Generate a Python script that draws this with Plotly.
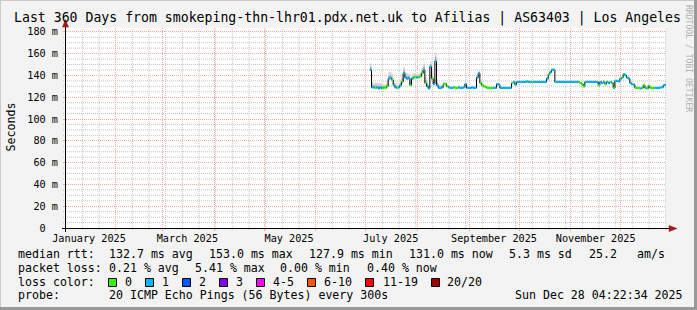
import plotly.graph_objects as go
import pandas as pd

# ---------------- data ----------------
start_date = "2025-07-03 12:00"   # first daily sample

median_ms = [
    145, 129, 129, 128.5, 129, 128, 129, 128, 129, 128.5,
    130, 137, 137.5, 136, 131, 129, 128.5, 129, 131, 134,
    142, 138, 137, 137.5, 131, 137, 138, 138.5, 138, 138.5,
    139, 142, 145, 133, 130, 128, 148, 137, 132, 153,
    131, 128.5, 128.5, 129, 132, 132, 130, 129, 128.5, 128.5,
    129, 128.5, 128.5, 129, 128.5, 128.5, 129, 132, 128.5, 128.5,
    128.5, 129, 128.5, 128.5, 138, 142, 133, 131, 130, 129.5,
    128.5, 128.5, 128.5, 128.5, 128.5, 128.5, 132, 131.5, 128.5, 128.5,
    128.5, 128.5, 128.5, 128.5, 128.5, 133, 134, 131.5, 134, 134,
    134, 134, 134, 134, 134.5, 134, 134, 134, 134, 134,
    134, 134, 134, 134, 134, 134, 137, 141, 143, 145,
    145, 134, 134, 134, 134, 134, 134, 134, 134, 134,
    134, 134, 134, 134, 134, 134, 133, 132, 130, 134,
    134, 134, 134, 134, 134, 134, 134, 131, 134, 133,
    134, 132, 134, 133, 134, 133, 128.5, 135, 135, 134.5,
    137, 138, 141, 140, 138, 137, 133, 132, 131.5, 128.5,
    128.5, 128.5, 128, 128.5, 131, 128.5, 128, 130.5, 128.5, 128.5,
    128.5, 128.5, 128.5, 128.5, 129, 129, 131, 131,
]

loss_pings = [
    1, 1, 1, 0, 1, 1, 1, 0, 0, 0,
    0, 1, 1, 0, 1, 1, 0, 1, 1, 0,
    1, 1, 1, 1, 0, 1, 0, 0, 1, 0,
    0, 0, 1, 0, 1, 1, 1, 0, 1, 1,
    1, 1, 1, 1, 0, 0, 0, 1, 1, 1,
    0, 0, 0, 1, 1, 1, 1, 1, 1, 1,
    1, 1, 1, 1, 1, 1, 0, 0, 0, 0,
    0, 0, 0, 0, 1, 1, 1, 1, 1, 1,
    1, 1, 1, 1, 1, 0, 1, 1, 1, 1,
    1, 1, 1, 1, 1, 1, 1, 0, 1, 1,
    1, 1, 1, 1, 1, 1, 1, 0, 1, 1,
    1, 1, 1, 1, 1, 1, 1, 1, 1, 1,
    1, 1, 1, 1, 1, 0, 0, 0, 0, 1,
    1, 1, 1, 1, 1, 1, 1, 0, 1, 1,
    1, 0, 1, 1, 0, 1, 0, 1, 1, 1,
    1, 0, 1, 1, 1, 1, 1, 1, 1, 0,
    0, 0, 1, 0, 0, 1, 0, 0, 0, 0,
    0, 1, 1, 1, 1, 1, 1, 1,
]

smoke_spread = [
    6, 5, 4, 5, 4, 5, 4, 4, 3, 3,
    5, 6, 6, 5, 4, 4, 3, 3, 5, 7,
    6, 5, 5, 4, 6, 4, 4, 3, 3, 3,
    4, 5, 6, 6, 5, 4, 5, 6, 5, 8,
    5, 3, 3, 2, 2, 2, 1.5, 1.5, 1.5, 1.5,
    1.5, 1.5, 1.5, 1.5, 1.5, 1.5, 1.5, 1.5, 1.5, 1.5,
    1.5, 1.5, 1.5, 1.5, 2, 2, 1.5, 1.2, 1.2, 1.2,
    1, 1, 1, 1, 1, 1, 1.2, 1, 1, 1,
    1, 1, 1, 1, 1, 1.2, 1, 1, 1, 1,
    1, 1, 1, 1, 1, 1, 1, 1, 1, 1,
    1, 1, 1, 1, 1, 1, 1.5, 1.5, 1.5, 1.5,
    1.5, 1, 1, 1, 1, 1, 1, 1, 1, 1,
    1, 1, 1, 1, 1, 1, 1, 1, 1, 1,
    1, 1, 1, 1, 1, 1, 1, 1, 1, 1,
    1, 1, 1, 1, 1, 1, 1, 1, 1, 1,
    1.2, 1.2, 1.2, 1.2, 1.2, 1, 1, 1, 1, 1,
    1, 1, 1, 1, 1, 1, 1, 1, 1, 1,
    1, 1, 1, 1, 1, 1, 1, 1,
]

loss_colors = ["#26ff00", "#00b8ff", "#0059ff", "#7e00ff",
               "#ff00ff", "#ff5500", "#ff0000", "#a10000"]
loss_labels = ["0", "1", "2", "3", "4-5", "6-10", "11-19", "20/20"]

month_starts = ["2025-02-01", "2025-03-01", "2025-04-01", "2025-05-01",
                "2025-06-01", "2025-07-01", "2025-08-01", "2025-09-01",
                "2025-10-01", "2025-11-01", "2025-12-01"]
label_dates = ["2025-01-16", "2025-03-16", "2025-05-16",
               "2025-07-16", "2025-09-16", "2025-11-16"]
label_texts = ["January 2025", "March 2025", "May 2025",
               "July 2025", "September 2025", "November 2025"]
y_ticks = [0, 20, 40, 60, 80, 100, 120, 140, 160, 180]
y_tick_texts = ["0\u00a0\u00a0", "20 m", "40 m", "60 m", "80 m",
                "100 m", "120 m", "140 m", "160 m", "180 m"]

x_range = ["2025-01-02 04:22:34", "2025-12-28 04:22:34"]
y_range = [0, 183.5]

# minor grid positions (every 10 days, every 5 ms)
x_minor = [d.strftime("%Y-%m-%d") for d in pd.date_range("2025-01-12", "2025-12-28", freq="10D")]
y_minor = [v for v in range(5, 185, 5) if v % 20]

# ---------------- layout geometry (pixels) ----------------
W, H = 697, 310
PL, PR, PT, PB = 66, 666, 28, 228
MONO = "DejaVu Sans Mono"
FS = 11.6      # legend font
AFS = 10.2     # axis font
MAJOR = "#f5aaaa"
MINOR = "#c4c4c4"


def px(x):
    return (x - PL) / (PR - PL)


def py(y):
    return (PB - y) / (PB - PT)


dates = pd.date_range(start_date, periods=len(median_ms) + 1, freq="D")
med_step = median_ms + [median_ms[-1]]

fig = go.Figure()

# smoke (outer and inner)
lo_outer = [m - 0.8 for m in med_step]
hi_outer = [m + s for m, s in zip(median_ms, smoke_spread)]
hi_outer.append(hi_outer[-1])
lo_inner = [m - 0.4 for m in med_step]
hi_inner = [m + s * 0.45 for m, s in zip(median_ms, smoke_spread)]
hi_inner.append(hi_inner[-1])

for lo, hi, col in [(lo_outer, hi_outer, "#d6d6d6"), (lo_inner, hi_inner, "#a9a9a9")]:
    fig.add_trace(go.Scatter(x=dates, y=lo, mode="lines", line=dict(width=0, shape="hv"),
                             hoverinfo="skip", showlegend=False))
    fig.add_trace(go.Scatter(x=dates, y=hi, mode="lines", line=dict(width=0, shape="hv"),
                             fill="tonexty", fillcolor=col, hoverinfo="skip", showlegend=False))

# black step line (vertical connectors)
fig.add_trace(go.Scatter(x=dates, y=med_step, mode="lines",
                         line=dict(color="#000000", width=1, shape="hv"),
                         hoverinfo="skip", showlegend=False))

# coloured horizontal median segments by loss
for k, col in enumerate(loss_colors):
    xs, ys = [], []
    for i, (v, l) in enumerate(zip(median_ms, loss_pings)):
        if l == k:
            xs += [dates[i], dates[i + 1], None]
            ys += [v, v, None]
    if xs:
        fig.add_trace(go.Scatter(x=xs, y=ys, mode="lines",
                                 line=dict(color=col, width=2.2),
                                 hoverinfo="skip", showlegend=False, connectgaps=False))

# invisible helper trace for label axis
fig.add_trace(go.Scatter(x=label_dates, y=[None] * len(label_dates), xaxis="x2",
                         mode="markers", showlegend=False, hoverinfo="skip"))

fig.update_layout(
    width=W, height=H,
    margin=dict(l=PL, r=W - PR, t=PT, b=H - PB, pad=0),
    paper_bgcolor="#f3f3f3",
    plot_bgcolor="#ffffff",
    font=dict(family=MONO, size=FS, color="#000000"),
    showlegend=False,
    xaxis=dict(
        type="date", range=x_range, tickmode="array", tickvals=month_starts,
        ticktext=[""] * len(month_starts), showticklabels=False,
        showgrid=True, gridcolor=MAJOR, griddash="1px,1px", gridwidth=1,
        ticks="outside", ticklen=2, tickcolor=MAJOR,
        showline=False, zeroline=False, fixedrange=True,
    ),
    xaxis2=dict(
        type="date", overlaying="x", matches="x", side="bottom", range=x_range,
        tickmode="array", tickvals=label_dates, ticktext=label_texts,
        showgrid=False, ticks="", showline=False, zeroline=False,
        ticklabelstandoff=3,
        tickfont=dict(family=MONO, size=AFS, color="#000000"),
    ),
    yaxis=dict(
        range=y_range, tickmode="array", tickvals=y_ticks, ticktext=y_tick_texts,
        showgrid=True, gridcolor=MAJOR, griddash="1px,1px", gridwidth=1,
        ticks="outside", ticklen=2, tickcolor=MAJOR,
        showline=False, zeroline=False, fixedrange=True,
        ticklabelstandoff=3,
        tickfont=dict(family=MONO, size=AFS, color="#000000"),
    ),
)

shapes = []
# minor grid (below traces)
for xv in x_minor:
    if xv in month_starts:
        continue
    shapes.append(dict(type="line", xref="x", yref="paper", x0=xv, x1=xv, y0=py(230), y1=1,
                       layer="below", line=dict(color=MINOR, width=1, dash="1px,1px")))
for yv in y_minor:
    shapes.append(dict(type="line", xref="paper", yref="y", x0=px(63), x1=1, y0=yv, y1=yv,
                       layer="below", line=dict(color=MINOR, width=1, dash="1px,1px")))
# canvas border shading
shapes.append(dict(type="line", xref="paper", yref="paper", x0=px(0), x1=px(W), y0=py(0.5), y1=py(0.5),
                   line=dict(color="#cbcbcb", width=1)))
shapes.append(dict(type="line", xref="paper", yref="paper", x0=px(0.5), x1=px(0.5), y0=py(0), y1=py(H),
                   line=dict(color="#cbcbcb", width=1)))
shapes.append(dict(type="line", xref="paper", yref="paper", x0=px(0), x1=px(W), y0=py(H - 1.5), y1=py(H - 1.5),
                   line=dict(color="#999999", width=3)))
shapes.append(dict(type="line", xref="paper", yref="paper", x0=px(W - 1.5), x1=px(W - 1.5), y0=py(0), y1=py(H),
                   line=dict(color="#999999", width=3)))
# axes with arrows
shapes.append(dict(type="line", xref="paper", yref="paper", x0=px(62), x1=px(670), y0=py(228.5), y1=py(228.5),
                   line=dict(color="#000000", width=1)))
shapes.append(dict(type="line", xref="paper", yref="paper", x0=px(65.5), x1=px(65.5), y0=py(232), y1=py(24),
                   line=dict(color="#000000", width=1)))
shapes.append(dict(type="path", xref="paper", yref="paper",
                   path=f"M {px(669)},{py(225.5)} L {px(677)},{py(228.5)} L {px(669)},{py(231.5)} Z",
                   fillcolor="#a01818", line=dict(color="#a01818", width=0.5)))
shapes.append(dict(type="path", xref="paper", yref="paper",
                   path=f"M {px(62.5)},{py(27)} L {px(65.5)},{py(19.5)} L {px(68.5)},{py(27)} Z",
                   fillcolor="#a01818", line=dict(color="#a01818", width=0.5)))

# loss colour boxes
box_x = [108.5, 145.5, 182.5, 219.5, 256.5, 307.5, 365.5, 431.5]
lab_x = [123, 160, 197, 234, 271, 321.5, 380.5, 445.5]
for bx, col in zip(box_x, loss_colors):
    shapes.append(dict(type="rect", xref="paper", yref="paper",
                       x0=px(bx), x1=px(bx + 8), y0=py(278.5), y1=py(286.5),
                       fillcolor=col, line=dict(color="#000000", width=1)))
fig.update_layout(shapes=shapes)

ann = []


def text(x, y, s, size=FS, color="#000000", angle=0, xanchor="left"):
    ann.append(dict(xref="paper", yref="paper", x=px(x), y=py(y), text=s, showarrow=False,
                    xanchor=xanchor, yanchor="middle", textangle=angle,
                    font=dict(family=MONO, size=size, color=color)))


text(12, 18.2, "Last 360 Days from smokeping-thn-lhr01.pdx.net.uk to Afilias | AS63403 | Los Angeles", size=13.2)
text(10.5, 127, "Seconds", angle=-90, xanchor="center")
text(688.5, 58.5, "RRDTOOL / TOBI OETIKER", size=8.1, color="#b0b0b0", angle=90, xanchor="center")

r1, r2, r3, r4 = 253.8, 267.8, 281.8, 295.4
text(16, r1, "median rtt:")
text(107.3, r1, "132.7 ms avg")
text(207.3, r1, "153.0 ms max")
text(307.3, r1, "127.9 ms min")
text(407.3, r1, "131.0 ms now")
text(506.7, r1, "5.3 ms sd")
text(586.7, r1, "25.2")
text(635, r1, "am/s")
text(16, r2, "packet loss:")
text(107.3, r2, "0.21 % avg")
text(192.7, r2, "5.41 % max")
text(278.3, r2, "0.00 % min")
text(365, r2, "0.40 % now")
text(16, r3, "loss color:")
for lx, lab in zip(lab_x, loss_labels):
    text(lx, r3, lab)
text(16, r4, "probe:")
text(107.3, r4, "20 ICMP Echo Pings (56 Bytes) every 300s")
text(513.3, r4, "Sun Dec 28 04:22:34 2025")

fig.update_layout(annotations=ann)

fig.write_html("out.html")
